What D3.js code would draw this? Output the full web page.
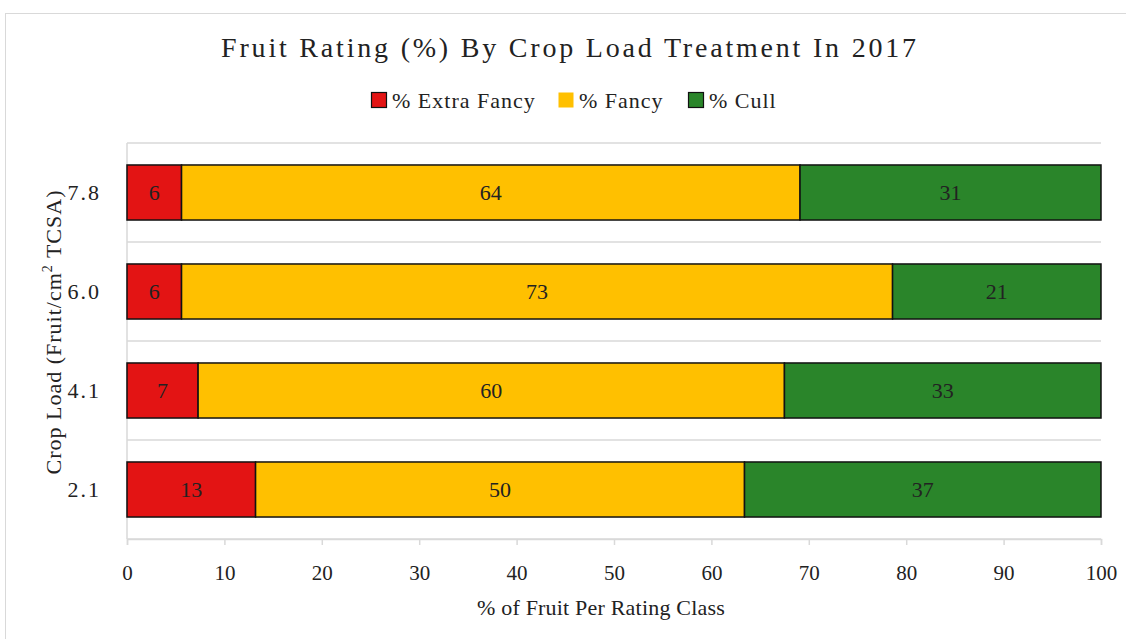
<!DOCTYPE html>
<html>
<head>
<meta charset="utf-8">
<script src="https://cdn.jsdelivr.net/npm/d3@7"></script>
<style>
  body { margin: 0; background: #fff; }
  svg text { font-family: "Liberation Serif", "DejaVu Serif", serif; fill: #222; }
</style>
</head>
<body>
<svg width="1126" height="639"></svg>
<script>
// data (top to bottom: 7.8 ... 2.1)
const categories = ["7.8", "6.0", "4.1", "2.1"];
const extraFancy = [5.6, 5.6, 7.3, 13.2];
const fancy = [63.5, 73.0, 60.2, 50.2];
const cull = [30.9, 21.4, 32.5, 36.6];
const seriesNames = ["% Extra Fancy", "% Fancy", "% Cull"];
const seriesColors = ["#e31414", "#ffc000", "#2a852a"];
const xTicks = [0, 10, 20, 30, 40, 50, 60, 70, 80, 90, 100];

const svg = d3.select("svg");

// outer frame
svg.append("rect")
  .attr("x", 5.5).attr("y", 13.5)
  .attr("width", 1140).attr("height", 640)
  .attr("fill", "none")
  .attr("stroke", "#d9d9d9");

const plotLeft = 127, plotRight = 1101, plotTop = 143, plotBottom = 539;

const x = d3.scaleLinear().domain([0, 100]).range([plotLeft, plotRight]);
const y = d3.scaleBand().domain(categories).range([plotTop, plotBottom])
  .paddingInner(0.444).paddingOuter(0.222);

// build stacked rows
const keys = ["ef", "f", "c"];
const rows = categories.map((c, i) => ({cat: c, ef: extraFancy[i], f: fancy[i], c: cull[i]}));
const layers = d3.stack().keys(keys)(rows);

// gridlines at band boundaries
const step = y.step();
const bounds = d3.range(categories.length + 1).map(i => plotTop + i * step);
svg.append("g").selectAll("line")
  .data(bounds)
  .enter()
  .append("line")
  .attr("x1", plotLeft).attr("x2", plotRight)
  .attr("y1", d => d).attr("y2", d => d)
  .attr("stroke", "#d9d9d9")
  .attr("stroke-width", 1.5);

// left axis line
svg.append("line")
  .attr("x1", plotLeft).attr("x2", plotLeft)
  .attr("y1", plotTop).attr("y2", plotBottom)
  .attr("stroke", "#d9d9d9").attr("stroke-width", 1.5);

// bottom axis
const xAxis = svg.append("g")
  .attr("transform", `translate(0,${plotBottom})`)
  .call(d3.axisBottom(x).tickValues(xTicks).tickSize(6).tickPadding(20));
xAxis.select(".domain").attr("stroke", "#d9d9d9").attr("stroke-width", 1.5);
xAxis.selectAll(".tick line").attr("stroke", "#d9d9d9").attr("stroke-width", 1.5);
xAxis.selectAll(".tick text")
  .attr("font-family", "Liberation Serif, serif")
  .attr("font-size", 21)
  .attr("fill", "#333");

// bars
const groups = svg.append("g").selectAll("g")
  .data(layers)
  .enter()
  .append("g")
  .attr("fill", (d, i) => seriesColors[i]);

groups.selectAll("rect")
  .data(d => d)
  .enter()
  .append("rect")
  .attr("x", d => x(d[0]))
  .attr("y", d => y(d.data.cat))
  .attr("width", d => x(d[1]) - x(d[0]))
  .attr("height", y.bandwidth())
  .attr("stroke", "#111")
  .attr("stroke-width", 1.5);

// value labels
groups.selectAll("text")
  .data(d => d.map(v => Object.assign(v, {key: d.key})))
  .enter()
  .append("text")
  .attr("x", d => (x(d[0]) + x(d[1])) / 2)
  .attr("y", d => y(d.data.cat) + y.bandwidth() / 2)
  .attr("dy", "0.35em")
  .attr("text-anchor", "middle")
  .attr("font-size", 22)
  .attr("fill", "#111")
  .text(d => Math.round(d.data[d.key]));

// category labels
svg.append("g").selectAll("text")
  .data(categories)
  .enter()
  .append("text")
  .attr("x", 101)
  .attr("y", d => y(d) + y.bandwidth() / 2)
  .attr("dy", "0.35em")
  .attr("text-anchor", "end")
  .attr("font-size", 22)
  .attr("letter-spacing", 2)
  .attr("fill", "#333")
  .text(d => d);

// title
svg.append("text")
  .attr("x", 570).attr("y", 57)
  .attr("text-anchor", "middle")
  .attr("font-size", 28)
  .attr("letter-spacing", 2.8)
  .attr("fill", "#222")
  .text("Fruit Rating (%) By Crop Load Treatment In 2017");

// legend
const legendX = [371, 558, 688];
const legend = svg.append("g").selectAll("g")
  .data(seriesNames)
  .enter()
  .append("g")
  .attr("transform", (d, i) => `translate(${legendX[i]},100)`);
legend.append("rect")
  .attr("x", 0.5).attr("y", -7.5)
  .attr("width", 15).attr("height", 15)
  .attr("fill", (d, i) => seriesColors[i])
  .attr("stroke", (d, i) => i === 1 ? "none" : "#111")
  .attr("stroke-width", 1.2);
legend.append("text")
  .attr("x", 21).attr("dy", "0.35em")
  .attr("font-size", 22)
  .attr("letter-spacing", 1)
  .attr("fill", "#222")
  .text(d => d);

// axis titles
svg.append("text")
  .attr("x", 601).attr("y", 615)
  .attr("text-anchor", "middle")
  .attr("font-size", 22)
  .attr("letter-spacing", 0.2)
  .attr("fill", "#333")
  .text("% of Fruit Per Rating Class");

const yTitle = svg.append("text")
  .attr("transform", "translate(61,332) rotate(-90)")
  .attr("text-anchor", "middle")
  .attr("font-size", 22)
  .attr("letter-spacing", 1)
  .attr("fill", "#333");
yTitle.append("tspan").text("Crop Load (Fruit/cm");
yTitle.append("tspan").attr("font-size", 14).attr("dy", -9).text("2");
yTitle.append("tspan").attr("dy", 9).text(" TCSA)");
</script>
</body>
</html>
